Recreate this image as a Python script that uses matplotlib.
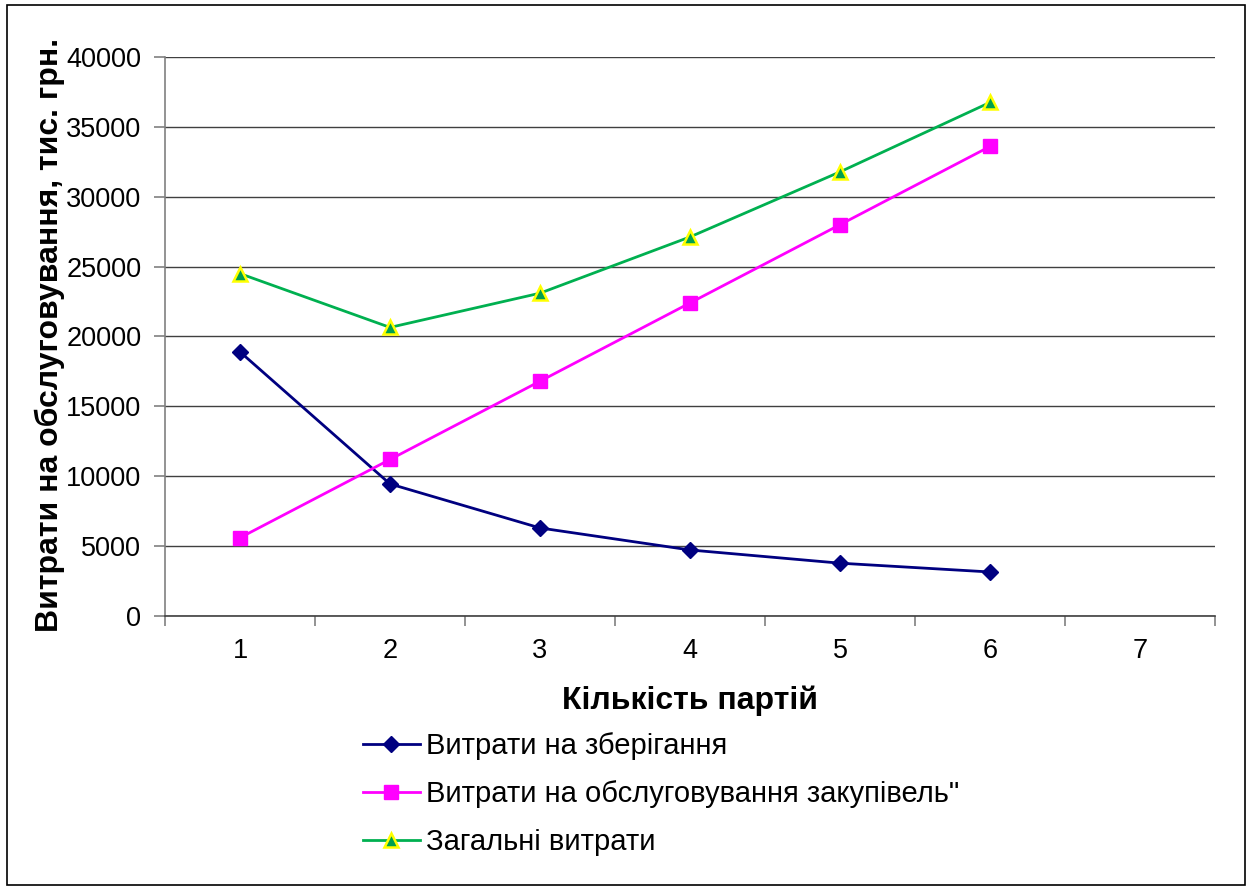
import matplotlib
matplotlib.use("Agg")
import matplotlib.pyplot as plt
from matplotlib.patches import Rectangle

categories = [1, 2, 3, 4, 5, 6]
x_ticks = [1, 2, 3, 4, 5, 6, 7]
storage = [18900, 9450, 6300, 4725, 3780, 3150]
service = [5600, 11200, 16800, 22400, 28000, 33600]
total = [24500, 20650, 23100, 27125, 31780, 36750]
y_ticks = [0, 5000, 10000, 15000, 20000, 25000, 30000, 35000, 40000]

names = ["Витрати на зберігання",
         "Витрати на обслуговування закупівель\"",
         "Загальні витрати"]

plt.rcParams['font.family'] = ['Liberation Sans', 'DejaVu Sans']

W, H = 1251, 890
fig = plt.figure(figsize=(W / 100, H / 100), dpi=100)
ax = fig.add_axes([165 / W, (H - 616) / H, (1215 - 165) / W, (616 - 57) / H])

ax.plot(categories, storage, color='#000080', lw=2, marker='D', ms=8,
        mfc='#000080', mec='#000080', label=names[0], zorder=3)
ax.plot(categories, service, color='#FF00FF', lw=2, marker='s', ms=10,
        mfc='#FF00FF', mec='#FF00FF', label=names[1], zorder=3)
ax.plot(categories, total, color='#00B050', lw=2, marker='^', ms=10,
        mfc='#00A050', mec='#FFFF00', mew=1.8, label=names[2], zorder=3)

ax.set_xlim(0.5, 7.5)
ax.set_ylim(0, 40000)
ax.set_xticks(x_ticks)
ax.set_xticklabels([str(v) for v in x_ticks])
ax.set_xticks([v + 0.5 for v in range(0, 8)], minor=True)
ax.tick_params(axis='x', which='major', length=0, pad=16, labelsize=19.5)
ax.tick_params(axis='x', which='minor', length=7, color='#808080', width=1.2)
ax.set_yticks(y_ticks)
ax.tick_params(axis='y', length=8, color='#808080', width=1.2, labelsize=19.5, pad=9)

ax.grid(axis='y', color='#404040', lw=1)
ax.set_axisbelow(True)
for s in ['top', 'right']:
    ax.spines[s].set_visible(False)
ax.spines['left'].set_color('#808080')
ax.spines['left'].set_linewidth(1.2)
ax.spines['bottom'].set_color('#404040')
ax.spines['bottom'].set_linewidth(1.2)

fig.text(690 / W, 1 - 701 / H, "Кількість партій", fontsize=23, fontweight='bold',
         ha='center', va='center')
fig.text(50 / W, 1 - 335 / H, "Витрати на обслуговування, тис. грн.",
         rotation=90, fontsize=23, fontweight='bold', ha='center', va='center')

fig.legend(loc='upper left', bbox_to_anchor=(363 / W, 1 - 732 / H), frameon=False,
           fontsize=21, handlelength=1.95, labelspacing=0.69, handletextpad=0.2,
           borderaxespad=0, borderpad=0)

fig.patches.append(Rectangle((7 / W, 5 / H), (1245 - 7) / W, (885 - 5) / H,
                             transform=fig.transFigure, fill=False,
                             edgecolor='black', lw=1.2))

fig.savefig("out.png", dpi=100)
